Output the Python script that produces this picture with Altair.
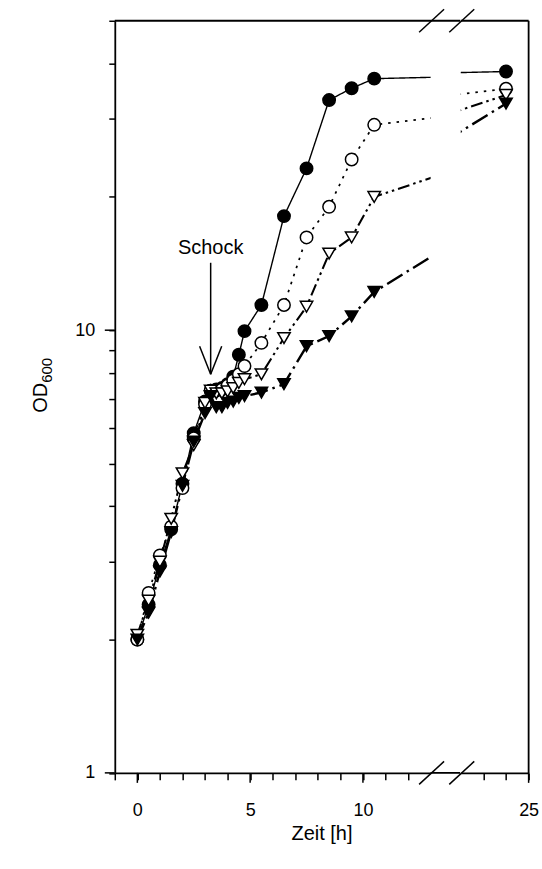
import altair as alt
import pandas as pd

# Sampling times [h]
t = [0, 0.5, 1, 1.5, 2, 2.5, 3, 3.25, 3.5, 3.75, 4, 4.25, 4.5, 4.75,
     5.5, 6.5, 7.5, 8.5, 9.5, 10.5, 24]

# OD600 of the four cultures
od_a = [2.0, 2.4, 2.95, 3.55, 4.5, 5.85, 6.9, 7.3, 7.35, 7.4, 7.55, 7.85, 8.8, 9.95,
        11.4, 18.1, 23.2, 33.1, 35.2, 37.0, 38.4]          # filled circles, solid
od_b = [2.0, 2.55, 3.1, 3.6, 4.4, 5.7, 6.8, 7.3, 7.3, 7.35, 7.5, 7.7, 7.95, 8.3,
        9.36, 11.4, 16.2, 19.0, 24.3, 29.1, 35.1]          # open circles, dotted
od_c = [2.05, 2.45, 3.0, 3.75, 4.75, 5.5, 6.85, 7.3, 7.2, 7.2, 7.27, 7.4, 7.6, 7.75,
        7.95, 9.6, 11.3, 14.9, 16.2, 20.0, 34.0]           # open triangles
od_d = [2.0, 2.3, 2.85, 3.5, 4.45, 5.6, 6.5, 7.1, 6.7, 6.7, 6.85, 6.9, 7.03, 7.1,
        7.23, 7.55, 9.2, 9.7, 10.75, 12.2, 32.5]           # filled triangles

series = ["a", "b", "c", "d"]
shapes = ["circle", "circle", "triangle-down", "triangle-down"]
fills = ["black", "white", "white", "black"]
dashes = [[1, 0], [2.5, 6], [12, 4, 2.5, 4, 2.5, 4], [18, 5, 2.5, 5]]
widths = [1.4, 2.4, 1.4, 1.4]

# Shock annotation (time, arrow top, arrow tip, wing height, wing half-width)
shock_t = 3.25
arrow_top = 14.2
arrow_tip = 7.95
wing_y = 9.2
wing_dx = 0.49
label_y = 14.84

# Broken time axis: two panels
left_dom = [-1, 13]
right_dom = [22, 25]
left_ticks = list(range(-1, 13))
right_ticks = [23, 24, 25]
left_major = [0, 5, 10]
right_major = [25]
y_ticks = [1, 2, 3, 4, 5, 6, 7, 8, 9, 10, 20, 30, 40, 50]
y_major = [1, 10]

H = 753.5
W1 = 316.4
W2 = 68
GAP = 29.6
PAD_L, PAD_T, PAD_R, PAD_B = 114.8, 19, 13, 96
FONT = "Liberation Sans"

rows = []
for name, vals in zip(series, [od_a, od_b, od_c, od_d]):
    for ti, v in zip(t, vals):
        rows.append({"t": ti, "od": v, "s": name})
df = pd.DataFrame(rows)

ysc = alt.Scale(type="log", domain=[1, 50], nice=False)
dash_sc = alt.Scale(domain=series, range=dashes)
width_sc = alt.Scale(domain=series, range=widths)
shape_sc = alt.Scale(domain=series, range=shapes)
fill_sc = alt.Scale(domain=series, range=fills)
one = pd.DataFrame({"k": [0]})


def rule(x, x2, y, y2, width=1.5, color="black"):
    return alt.Chart(one).mark_rule(color=color, strokeWidth=width).encode(
        x=alt.value(x), x2=alt.value(x2), y=alt.value(y), y2=alt.value(y2))


def panel(dom, width, ticks, majors, label_vals, is_left):
    xsc = alt.Scale(domain=dom, nice=False, zero=False)
    lab = " || ".join(f"datum.value == {v}" for v in label_vals)
    xaxis = alt.Axis(values=ticks, tickSize=7, labelPadding=22, title=None,
                     labelExpr=f"({lab}) ? format(datum.value, 'd') : ''",
                     labelFlush=False)
    if is_left:
        yaxis = alt.Axis(values=y_ticks, tickSize=6, labelPadding=14, title=None,
                         labelExpr="datum.value == 1 ? '1' : datum.value == 10 ? '10' : ''")
    else:
        yaxis = None

    def X(field):
        return alt.X(field, scale=xsc, axis=xaxis)

    def Y(field):
        return alt.Y(field, scale=ysc, axis=yaxis)

    base = alt.Chart(df)
    lines = base.mark_line(clip=True, color="black").encode(
        x=X("t:Q"), y=Y("od:Q"),
        strokeDash=alt.StrokeDash("s:N", scale=dash_sc, legend=None),
        strokeWidth=alt.StrokeWidth("s:N", scale=width_sc, legend=None),
        detail="s:N",
    )
    points = base.mark_point(clip=True, filled=True, stroke="black", strokeWidth=1.5,
                             opacity=1, size=155).encode(
        x=X("t:Q"), y=Y("od:Q"),
        shape=alt.Shape("s:N", scale=shape_sc, legend=None),
        fill=alt.Fill("s:N", scale=fill_sc, legend=None),
        order=alt.Order("s:N"),
    )
    xmaj = alt.Chart(pd.DataFrame({"t": majors})).mark_rule(
        color="black", strokeWidth=1.5).encode(
        x=X("t:Q"), y=alt.value(H), y2=alt.value(H + 10))

    # break marks crossing the top and bottom edges
    bx = width + 1 if is_left else 1
    layers = [lines, points, xmaj,
              rule(bx - 12.5, bx + 12.5, 11.5, -11.5),
              rule(bx - 12.5, bx + 12.5, H + 11.5, H - 11.5)]

    if is_left:
        ymaj = alt.Chart(pd.DataFrame({"od": y_major})).mark_rule(
            color="black", strokeWidth=1.5).encode(
            y=Y("od:Q"), x=alt.value(-10), x2=alt.value(0))
        shaft = alt.Chart(pd.DataFrame({"t": [shock_t], "od": [arrow_top], "b": [arrow_tip]})).mark_rule(
            color="black", strokeWidth=1.5).encode(
            x=X("t:Q"), y=Y("od:Q"), y2="b:Q")
        wings = alt.Chart(pd.DataFrame({
            "t": [shock_t - wing_dx, shock_t + wing_dx],
            "t2": [shock_t, shock_t],
            "od": [wing_y, wing_y], "b": [arrow_tip, arrow_tip]})).mark_rule(
            color="black", strokeWidth=1.5).encode(
            x=X("t:Q"), x2="t2:Q", y=Y("od:Q"), y2="b:Q")
        label = alt.Chart(pd.DataFrame({"t": [shock_t], "od": [label_y], "txt": ["Schock"]})).mark_text(
            font=FONT, fontSize=20, baseline="alphabetic", align="center", color="black").encode(
            x=X("t:Q"), y=Y("od:Q"), text="txt:N")
        ytitle = alt.Chart(pd.DataFrame({"txt": ["OD"]})).mark_text(
            font=FONT, fontSize=20, angle=270, align="right", baseline="alphabetic",
            color="black").encode(x=alt.value(-68), y=alt.value(H / 2 - 14), text="txt:N")
        ysub = alt.Chart(pd.DataFrame({"txt": ["600"]})).mark_text(
            font=FONT, fontSize=15, angle=270, align="left", baseline="alphabetic",
            color="black").encode(x=alt.value(-63), y=alt.value(H / 2 - 14), text="txt:N")
        layers += [
            ymaj,
            rule(0, width + GAP, 0, 0, 1.8),          # top edge, across the break
            rule(width, width + GAP, H, H, 1.8),      # bottom edge inside the break
            shaft, wings, label, ytitle, ysub,
            rule(-PAD_L, -PAD_L, -PAD_T, H + PAD_B, 0.1, "white"),  # canvas anchor
        ]
    else:
        xtitle = alt.Chart(pd.DataFrame({"txt": ["Zeit [h]"]})).mark_text(
            font=FONT, fontSize=20, baseline="alphabetic", align="center",
            color="black").encode(x=alt.value(-W1 - GAP + (W1 + GAP + width) / 2),
                                  y=alt.value(H + 67), text="txt:N")
        layers += [
            rule(0, width, 0, 0, 1.8),                # top edge
            rule(width, width, 0, H, 1.8),            # right edge
            xtitle,
            rule(width + PAD_R, width + PAD_R, -PAD_T, H + PAD_B, 0.1, "white"),
        ]
    return alt.layer(*layers).properties(width=width, height=H)


left = panel(left_dom, W1, left_ticks, left_major, [0, 5, 10], True)
right = panel(right_dom, W2, right_ticks, right_major, [25], False)

chart = alt.hconcat(left, right, spacing=GAP, bounds="flush").properties(
    padding=0,
).configure_view(stroke=None).configure_axis(
    domainColor="black", domainWidth=1.8, tickColor="black", tickWidth=1.5,
    labelFont=FONT, labelFontSize=18, labelColor="black", grid=False,
)

chart.save("out.html", embed_options={"renderer": "svg", "actions": False})
